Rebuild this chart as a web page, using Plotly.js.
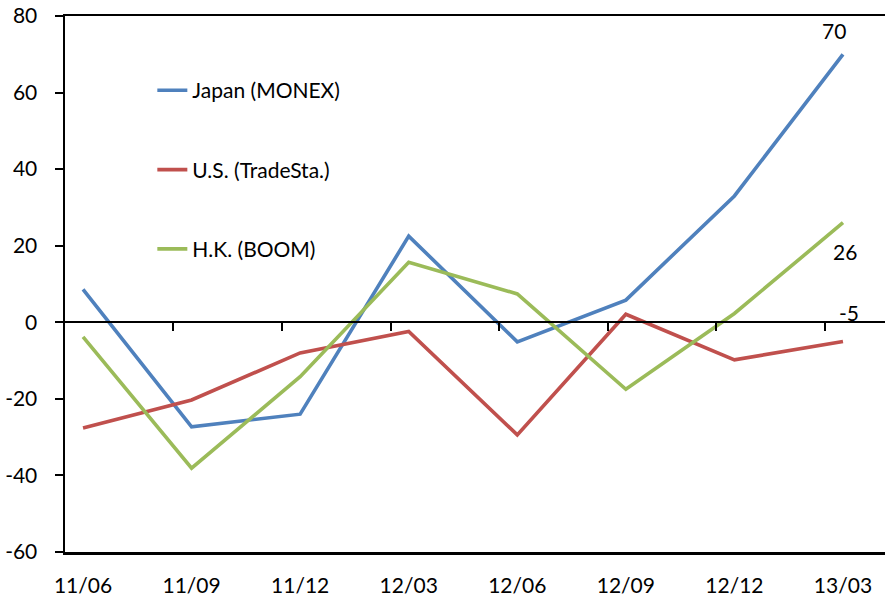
<!DOCTYPE html>
<html>
<head>
<meta charset="utf-8">
<script src="https://cdn.plot.ly/plotly-3.0.1.min.js"></script>
<style>html,body{margin:0;padding:0;background:#fff;}#chart{width:885px;height:599px;}</style>
</head>
<body>
<div id="chart"></div>
<script>
const categories = ["11/06","11/09","11/12","12/03","12/06","12/09","12/12","13/03"];
const japan = [8.6, -27.3, -24.0, 22.5, -5.1, 5.8, 33.0, 70];
const us = [-27.6, -20.3, -8.0, -2.4, -29.4, 2.1, -9.8, -5];
const hk = [-3.8, -38.1, -14.2, 15.7, 7.4, -17.5, 2.3, 26];
const seriesNames = ["Japan (MONEX)", "U.S. (TradeSta.)", "H.K. (BOOM)"];
const endLabels = ["70", "26", "-5"];
const yTickVals = [-60, -40, -20, 0, 20, 40, 60, 80];
const yTickText = ["-60", "-40", "-20", "0", "20", "40", "60", "80"];

const FONT = "Lato, 'Open Sans', sans-serif";
const idx = categories.map((c, i) => i);
const colors = ["#4F81BD", "#C0504D", "#9BBB59"];
const series = [japan, us, hk];

const traces = series.map((s, k) => ({
  type: "scatter", mode: "lines", x: idx, y: s, name: seriesNames[k],
  legendgroup: "g" + k,
  line: {color: colors[k], width: 3.6},
  hoverinfo: "skip"
}));
// empty trace so the zero-crossing category axis (x2) is drawn
traces.unshift({type: "scatter", mode: "lines", x: [], y: [], xaxis: "x2", yaxis: "y",
  showlegend: false, hoverinfo: "skip"});

const last = idx.length - 1;
const annShift = [[-9, 24], [2, -29], [6, 29]];
const annSeries = [japan, hk, us];
const annotations = annSeries.map((s, k) => ({
  x: last, y: s[last], xref: "x", yref: "y", text: endLabels[k], showarrow: false,
  xshift: annShift[k][0], yshift: annShift[k][1],
  font: {family: FONT, size: 21, color: "#000"}
}));

const xr = [-0.166, 7.387];
const layout = {
  width: 885, height: 599,
  margin: {l: 65, r: 0, t: 16, b: 47},
  paper_bgcolor: "#fff", plot_bgcolor: "#fff",
  font: {family: FONT, size: 21, color: "#000"},
  showlegend: true,
  legend: {x: 0.1065, y: 0.899, xanchor: "left", yanchor: "top", tracegroupgap: 49,
           bgcolor: "rgba(0,0,0,0)", font: {family: FONT, size: 21, color: "#000"}},
  xaxis: {range: xr, tickvals: idx, ticktext: categories, ticks: "", showgrid: false,
          zeroline: false, showline: true, linecolor: "#000", linewidth: 2.5, mirror: true,
          ticklabelstandoff: 13, tickfont: {family: FONT, size: 21, color: "#000"}},
  xaxis2: {range: xr, overlaying: "x", anchor: "free", position: 60/140, side: "bottom",
           tickvals: idx.slice(0, last).map(i => i + 0.833), showticklabels: false,
           ticks: "outside", ticklen: 8, tickwidth: 2, tickcolor: "#000",
           showline: true, linecolor: "#000", linewidth: 2, showgrid: false, zeroline: false},
  yaxis: {range: [-60, 80], tickvals: yTickVals, ticktext: yTickText, ticks: "outside",
          ticklen: 8, tickwidth: 2,
          tickcolor: "#000", showline: true, linecolor: "#000", linewidth: 2.5,
          showgrid: false, zeroline: false, ticklabelstandoff: 13,
          tickfont: {family: FONT, size: 21, color: "#000"}},
  annotations: annotations
};

Plotly.newPlot("chart", traces, layout, {staticPlot: true, displayModeBar: false});
</script>
</body>
</html>
